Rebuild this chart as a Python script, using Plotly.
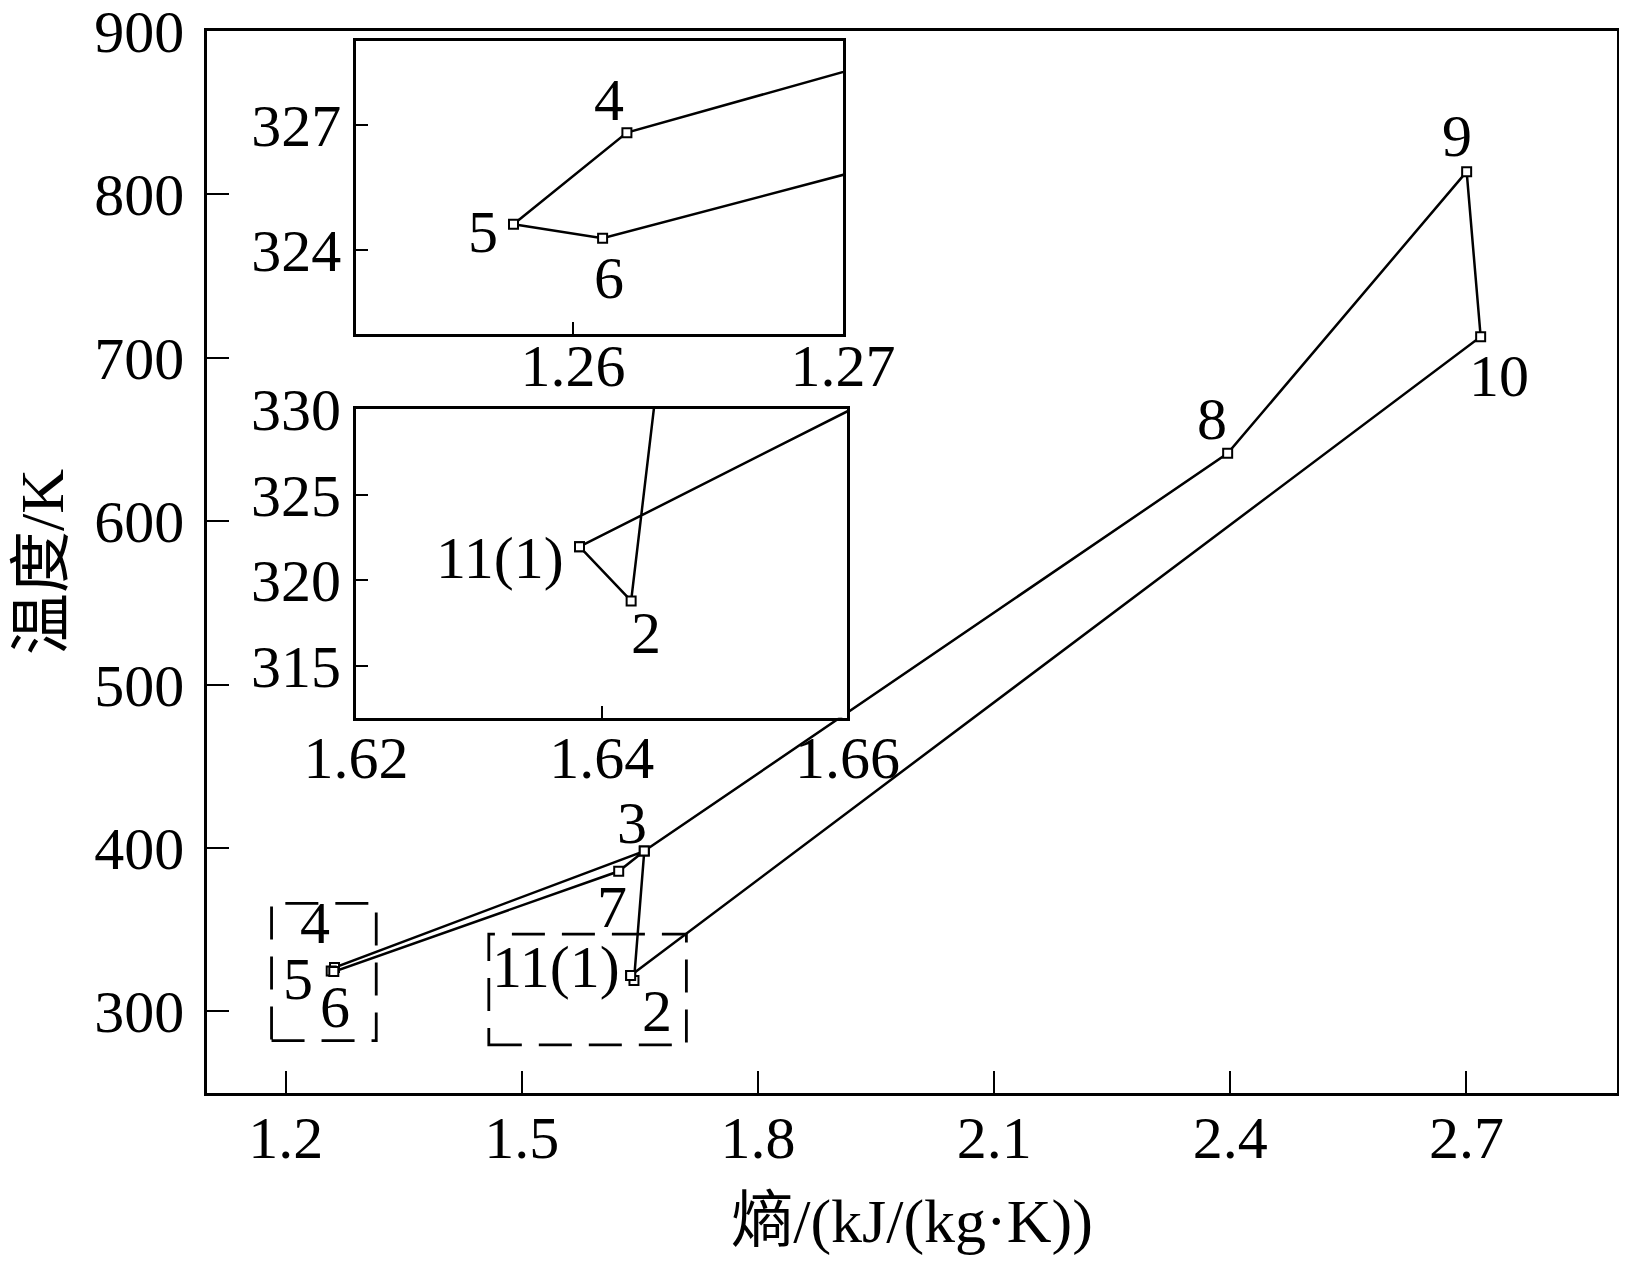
import plotly.graph_objects as go

# ---------------- data ----------------
state_names = ["11(1)", "2", "3", "4", "5", "6", "7", "8", "9", "10"]
entropy = [1.6382, 1.6424, 1.6555, 1.2620, 1.2578, 1.2611, 1.6230, 2.3966, 2.7002, 2.7180]
temperature = [321.97, 318.81, 398.1, 326.81, 324.62, 324.29, 385.7, 641.5, 813.9, 712.9]
# cycle path through the states (indices)
path_order = [0, 1, 2, 3, 4, 5, 6, 2, 7, 8, 9, 0]

main_xticks = [1.2, 1.5, 1.8, 2.1, 2.4, 2.7]
main_xticktext = ["1.2", "1.5", "1.8", "2.1", "2.4", "2.7"]
main_yticks = [300, 400, 500, 600, 700, 800, 900]

inset1_xticks = [1.26, 1.27]
inset1_xticktext = ["1.26", "1.27"]
inset1_yticks = [324, 327]
inset2_xticks = [1.62, 1.64, 1.66]
inset2_xticktext = ["1.62", "1.64", "1.66"]
inset2_yticks = [315, 320, 325, 330]

# ---------------- layout constants ----------------
# the page body has an 8px margin, so the figure must fit inside the window minus 16px
W, H = 1611, 1248
FONT = "Liberation Serif, Times New Roman, Noto Sans CJK SC, serif"
FS = 60

main_xrange = [1.1, 2.8912]
main_yrange = [250, 900]
inset1_xrange = [1.25197, 1.27]
inset1_yrange = [322, 329]
inset2_xrange = [1.62, 1.66]
inset2_yrange = [312, 330]

inset1_domain = ([0.10574, 0.45099], [0.7147, 0.9906])
inset2_domain = ([0.10560, 0.45418], [0.3534, 0.6441])

zoom_boxes = [((1.182, 1.315), (282.0, 366.1)), ((1.458, 1.709), (279.4, 347.3))]

main_label_shift = {"11(1)": (-75, 8), "2": (23, -30), "3": (-12, 28), "4": (-20, 45),
                    "5": (-33, -8), "6": (1, -35), "7": (-7, -36), "8": (-16, 34),
                    "9": (-10, 36), "10": (18, -39)}
inset1_label_shift = {"4": (-18, 33), "5": (-31, -8), "6": (6, -40)}
inset2_label_shift = {"11(1)": (-80, -11), "2": (15, -32)}

# white patch behind the left part of the "1.66" inset tick label (hides the main line there)
label_mask = dict(x=[1.6566], y=[310.2], size=30)

px_ = [entropy[i] for i in path_order]
py_ = [temperature[i] for i in path_order]

line_style = dict(color="black", width=2.5)
marker_style = dict(symbol="square", size=9, color="white", line=dict(color="black", width=2))

fig = go.Figure()
for xa, ya in [("x", "y"), ("x2", "y2"), ("x3", "y3")]:
    fig.add_trace(go.Scatter(x=px_, y=py_, mode="lines+markers", line=line_style,
                             marker=marker_style, xaxis=xa, yaxis=ya,
                             showlegend=False, hoverinfo="skip"))

fig.add_trace(go.Scatter(x=label_mask["x"], y=label_mask["y"], mode="markers",
                         marker=dict(symbol="square", size=label_mask["size"], color="white",
                                     line=dict(width=0)),
                         xaxis="x3", yaxis="y3", cliponaxis=False,
                         showlegend=False, hoverinfo="skip"))

annotations = []
def add_labels(shifts, xref, yref):
    for name, (dx, dy) in shifts.items():
        i = state_names.index(name)
        annotations.append(dict(x=entropy[i], y=temperature[i], xref=xref, yref=yref,
                                text=name, showarrow=False, xshift=dx, yshift=dy,
                                xanchor="center", yanchor="middle",
                                font=dict(family=FONT, size=FS, color="black")))
add_labels(main_label_shift, "x", "y")
add_labels(inset1_label_shift, "x2", "y2")
add_labels(inset2_label_shift, "x3", "y3")

shapes = []
for (x0, x1), (y0, y1) in zoom_boxes:
    shapes.append(dict(type="rect", xref="x", yref="y", x0=x0, x1=x1, y0=y0, y1=y1,
                       line=dict(color="black", width=2.8, dash="33px,17px"), layer="above"))

common_axis = dict(showline=True, linecolor="black", mirror=True, ticks="inside",
                   showgrid=False, zeroline=False, tickcolor="black", tickwidth=2,
                   automargin=False, ticklabeloverflow="allow",
                   tickfont=dict(family=FONT, size=FS, color="black"))

fig.update_layout(
    width=W, height=H,
    margin=dict(l=199, r=2, t=23, b=163),
    paper_bgcolor="white", plot_bgcolor="white",
    font=dict(family=FONT, size=FS, color="black"),
    xaxis=dict(range=main_xrange, tickvals=main_xticks, ticktext=main_xticktext,
               ticklen=22, linewidth=2.6, ticklabelstandoff=-10,
               title=dict(text="熵/(kJ/(kg·K))", font=dict(family=FONT, size=62), standoff=44),
               **common_axis),
    yaxis=dict(range=main_yrange, tickvals=main_yticks, ticklen=22, linewidth=2.6,
               ticklabelstandoff=8,
               title=dict(text="温度/K", font=dict(family=FONT, size=62), standoff=20),
               **common_axis),
    xaxis2=dict(domain=inset1_domain[0], anchor="y2", range=inset1_xrange,
                tickvals=inset1_xticks, ticktext=inset1_xticktext, ticklen=12,
                linewidth=2.6, ticklabelstandoff=-23, **common_axis),
    yaxis2=dict(domain=inset1_domain[1], anchor="x2", range=inset1_yrange,
                tickvals=inset1_yticks, ticklen=12, linewidth=2.6,
                ticklabelstandoff=0, **common_axis),
    xaxis3=dict(domain=inset2_domain[0], anchor="y3", range=inset2_xrange,
                tickvals=inset2_xticks, ticktext=inset2_xticktext, ticklen=12,
                linewidth=2.6, ticklabelstandoff=-14, **common_axis),
    yaxis3=dict(domain=inset2_domain[1], anchor="x3", range=inset2_yrange,
                tickvals=inset2_yticks, ticklen=12, linewidth=2.6,
                ticklabelstandoff=0, **common_axis),
    annotations=annotations,
    shapes=shapes,
)

fig.write_html("out.html")
